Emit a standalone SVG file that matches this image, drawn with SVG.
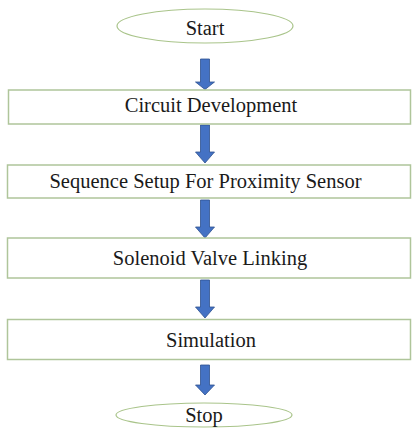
<svg xmlns="http://www.w3.org/2000/svg" width="412" height="430" viewBox="0 0 412 430">
<style>
.bg{fill:#ffffff}
.term{fill:#ffffff;stroke:#a9c48a;stroke-width:1.2}
.box{fill:#ffffff;stroke:#afc59a;stroke-width:1.5}
.lbl{font-family:'Liberation Serif','Times New Roman',serif;font-size:20.5px;fill:#1a1a1a;text-anchor:middle}
.arr{fill:#4472c4;stroke:#2f528f;stroke-width:0.8}
</style>
<rect class="bg" x="0" y="0" width="412" height="430"/>
<g id="connectors">
<path class="arr" d="M200.5,59 H209.5 V82 H214.5 L205,89.5 L195.5,82 H200.5 Z"/>
<path class="arr" d="M200.5,125 H209.5 V152 H214.5 L205,163 L195.5,152 H200.5 Z"/>
<path class="arr" d="M200.5,200 H209.5 V227 H214.5 L205,238 L195.5,227 H200.5 Z"/>
<path class="arr" d="M200.5,280 H209.5 V307 H214.5 L205,318 L195.5,307 H200.5 Z"/>
<path class="arr" d="M200.5,365 H209.5 V385 H214.5 L205,395 L195.5,385 H200.5 Z"/>
</g>
<g id="start">
<ellipse class="term" cx="205" cy="26" rx="88" ry="17"/>
<text class="lbl" x="205" y="35">Start</text>
</g>
<g id="circuit">
<rect class="box" x="8.5" y="90" width="402" height="34"/>
<text class="lbl" x="211" y="112">Circuit Development</text>
</g>
<g id="sequence">
<rect class="box" x="7.5" y="165" width="403" height="33"/>
<text class="lbl" x="205.5" y="188">Sequence Setup For Proximity Sensor</text>
</g>
<g id="solenoid">
<rect class="box" x="7.5" y="238" width="403" height="40"/>
<text class="lbl" x="210" y="265">Solenoid Valve Linking</text>
</g>
<g id="simulation">
<rect class="box" x="7.5" y="319.5" width="403" height="40"/>
<text class="lbl" x="211" y="347">Simulation</text>
</g>
<g id="stop">
<ellipse class="term" cx="204" cy="415" rx="88" ry="12"/>
<text class="lbl" x="204" y="422">Stop</text>
</g>
</svg>
